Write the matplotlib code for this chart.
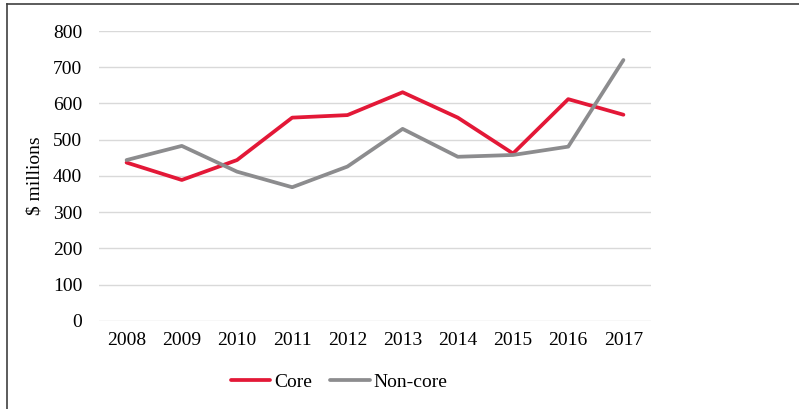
import matplotlib.pyplot as plt
from matplotlib.lines import Line2D

years = ['2008', '2009', '2010', '2011', '2012', '2013', '2014', '2015', '2016', '2017']
core = [437, 389, 444, 561, 568, 631, 561, 462, 612, 569]
non_core = [444, 483, 412, 369, 426, 530, 453, 458, 481, 720]

plt.rcParams['font.family'] = ['Liberation Serif', 'DejaVu Serif']
fs = 14

fig = plt.figure(figsize=(7.99, 4.09), dpi=100)
ax = fig.add_axes([0.1239, 0.2152, 0.6909, 0.709])

x = range(len(years))
ax.plot(x, core, color='#e31837', lw=2.7, label='Core', solid_capstyle='round')
ax.plot(x, non_core, color='#8c8c8e', lw=2.7, label='Non-core', solid_capstyle='round')

ax.set_xlim(-0.5, len(years) - 0.5)
ax.set_ylim(0, 800)
ax.set_yticks(range(0, 801, 100))
ax.set_xticks(list(x))
ax.set_xticklabels(years)
ax.grid(axis='y', color='#d9d9d9', lw=1)
ax.set_axisbelow(True)
for s in ax.spines.values():
    s.set_visible(False)
ax.tick_params(axis='both', length=0, labelsize=fs, colors='black')
ax.tick_params(axis='y', pad=12)
ax.tick_params(axis='x', pad=8)
ax.set_ylabel('$ millions', fontsize=fs, labelpad=7)

ax.legend(loc='center', bbox_to_anchor=(339 / 799, 1 - 382 / 409),
          bbox_transform=fig.transFigure, ncol=2, frameon=False,
          prop={'family': 'Liberation Serif', 'size': fs},
          handlelength=2.05, handletextpad=0.2, columnspacing=0.9,
          borderpad=0, borderaxespad=0)

# outer frame (top and left edges)
fig.add_artist(Line2D([7 / 799, 1], [1 - 4 / 409, 1 - 4 / 409], color='#404040', lw=1.2,
                      transform=fig.transFigure))
fig.add_artist(Line2D([7 / 799, 7 / 799], [0, 1 - 4 / 409], color='#404040', lw=1.2,
                      transform=fig.transFigure))

fig.savefig('out.png', dpi=100)
